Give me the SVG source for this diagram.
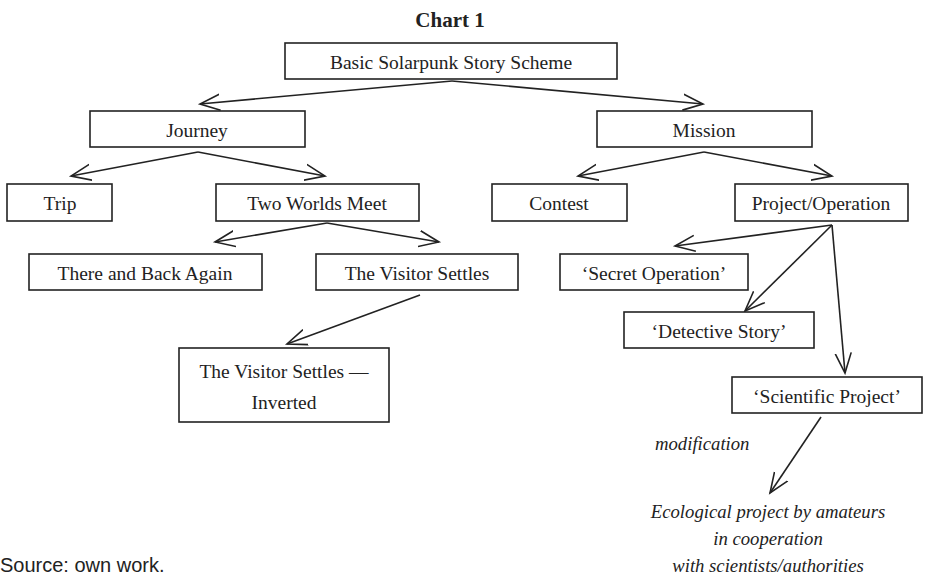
<svg xmlns="http://www.w3.org/2000/svg" width="930" height="575" viewBox="0 0 930 575">
<style>
.box{fill:#fff;stroke:#222;stroke-width:1.6}
.t{font-family:"Liberation Serif",serif;font-size:19.5px;fill:#222;text-anchor:middle}
.i{font-family:"Liberation Serif",serif;font-size:18.7px;font-style:italic;fill:#222;text-anchor:middle}
.c{fill:none;stroke:#222;stroke-width:1.6;marker-end:url(#ah)}
</style>
<defs>
<marker id="ah" markerWidth="24" markerHeight="20" refX="20" refY="9" orient="auto" markerUnits="userSpaceOnUse" viewBox="0 0 24 18">
<polyline points="0,1 20,9 0,17" fill="none" stroke="#222" stroke-width="1.6"/>
</marker>
</defs>
<rect width="930" height="575" fill="#fff"/>
<text x="450" y="27" class="t" style="font-weight:bold;font-size:21px">Chart 1</text>
<g id="connectors">
<path class="c" d="M452,81 L200,104"/>
<path class="c" d="M452,81 L703,104"/>
<path class="c" d="M198,152 L71,176"/>
<path class="c" d="M198,152 L325,176"/>
<path class="c" d="M704,152 L578,176"/>
<path class="c" d="M704,152 L832,176"/>
<path class="c" d="M327,223 L215,242"/>
<path class="c" d="M327,223 L439,242"/>
<path class="c" d="M420,295 L287,344"/>
<path class="c" d="M832,225 L675,246"/>
<path class="c" d="M832,225 L745,311"/>
<path class="c" d="M832,225 L845,373"/>
<path class="c" d="M821,417 L770,493"/>
</g>
<g id="basic"><rect class="box" x="285" y="43" width="332" height="36"/><text class="t" x="451" y="68.5">Basic Solarpunk Story Scheme</text></g>
<g id="journey"><rect class="box" x="90" y="111" width="215" height="36"/><text class="t" x="197" y="136.5">Journey</text></g>
<g id="mission"><rect class="box" x="597" y="111" width="215" height="36"/><text class="t" x="704" y="136.5">Mission</text></g>
<g id="trip"><rect class="box" x="7" y="184" width="105" height="37"/><text class="t" x="60" y="210">Trip</text></g>
<g id="twoworlds"><rect class="box" x="216" y="184" width="203" height="37"/><text class="t" x="317" y="210">Two Worlds Meet</text></g>
<g id="contest"><rect class="box" x="492" y="184" width="135" height="37"/><text class="t" x="559" y="210">Contest</text></g>
<g id="project"><rect class="box" x="735" y="184" width="173" height="37"/><text class="t" x="821" y="210">Project/Operation</text></g>
<g id="thereback"><rect class="box" x="29" y="254" width="233" height="36"/><text class="t" x="145" y="279.5">There and Back Again</text></g>
<g id="visitor"><rect class="box" x="316" y="254" width="202" height="36"/><text class="t" x="417" y="279.5">The Visitor Settles</text></g>
<g id="secret"><rect class="box" x="560" y="254" width="188" height="36"/><text class="t" x="654" y="279.5">‘Secret Operation’</text></g>
<g id="detective"><rect class="box" x="624" y="312" width="190" height="36"/><text class="t" x="719" y="337.5">‘Detective Story’</text></g>
<g id="inverted"><rect class="box" x="179" y="348" width="210" height="74"/><text class="t" x="284" y="378">The Visitor Settles —</text><text class="t" x="284" y="409">Inverted</text></g>
<g id="scientific"><rect class="box" x="732" y="377" width="190" height="36"/><text class="t" x="827" y="402.5">‘Scientific Project’</text></g>
<text class="i" x="655" y="450" style="text-anchor:start">modification</text>
<g id="ecological"><text class="i" x="768" y="518">Ecological project by amateurs</text><text class="i" x="768" y="545">in cooperation</text><text class="i" x="768" y="572">with scientists/authorities</text></g>
<text x="0" y="572" style="font-family:'Liberation Sans',sans-serif;font-size:20px;fill:#222">Source: own work.</text>
</svg>
